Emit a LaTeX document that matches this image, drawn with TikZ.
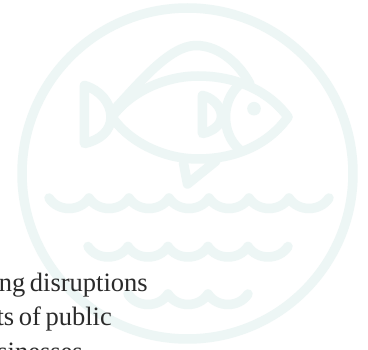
\documentclass[tikz,border=0pt]{standalone}
\usepackage{fontspec}
\setmainfont[WordSpace=0.7]{Liberation Serif}
\definecolor{icon}{HTML}{EDF6F5}
\definecolor{ink}{HTML}{2B2B2B}
\tikzset{
  iconline/.style={draw=icon,line width=9.5pt,line cap=round,line join=round},
  bodytext/.style={anchor=base east,inner sep=0pt,text=ink,font=\fontsize{26.5}{33}\selectfont},
}
\begin{document}
\begin{tikzpicture}[x=1pt,y=-1pt]
\useasboundingbox (0,0) rectangle (368,350);
\fill[white] (0,0) rectangle (368,350);
% ring
\draw[iconline] (187.5,173.5) circle[radius=165.5];
% body
\draw[iconline] (112,117) .. controls (130,92) and (165,76) .. (198,76)
  .. controls (235,76) and (268,90) .. (288,117)
  .. controls (268,145) and (235,159) .. (198,159)
  .. controls (165,159) and (130,143) .. (112,117);
% tail
\draw[iconline] (84.5,85.5) -- (84.5,143.5)
  .. controls (100,140) and (111,131) .. (111,117)
  .. controls (111,103) and (100,90) .. cycle;
% dorsal fin
\draw[iconline] (114,110) .. controls (140,82) and (170,45.5) .. (196,45.5)
  .. controls (220,45.5) and (240,65) .. (250,84);
% pectoral fin
\draw[iconline] (202.5,95.5) -- (202.5,133.5)
  .. controls (211,132) and (221.5,126) .. (221.5,116)
  .. controls (221.5,106) and (211,97) .. cycle;
% gill
\draw[iconline] (238,86) .. controls (230,94) and (225.5,105) .. (225.5,117)
  .. controls (225.5,129) and (230,141) .. (239,149);
% eye
\fill[icon] (254,108.7) circle[radius=6.8];
% belly fin
\draw[iconline] (183.5,163) -- (187.5,184) -- (216,161);
% waves
\draw[iconline] (49,198) \foreach \i in {1,...,7}{ .. controls +(9,14) and +(-9,14) .. ++(40,0) };
\draw[iconline] (88,246.5) \foreach \i in {1,...,5}{ .. controls +(9,14) and +(-9,14) .. ++(40,0) };
\draw[iconline] (128,294) \foreach \i in {1,...,3}{ .. controls +(9,14) and +(-9,14) .. ++(40,0) };
% text
\node[bodytext] (l1) at (148,291.5) {ng disruptions};
\node[bodytext] (l2) at (112,325.5) {ts of public};
\node[bodytext] (l3) at (83,360.5) {usinesses};
\end{tikzpicture}
\end{document}
